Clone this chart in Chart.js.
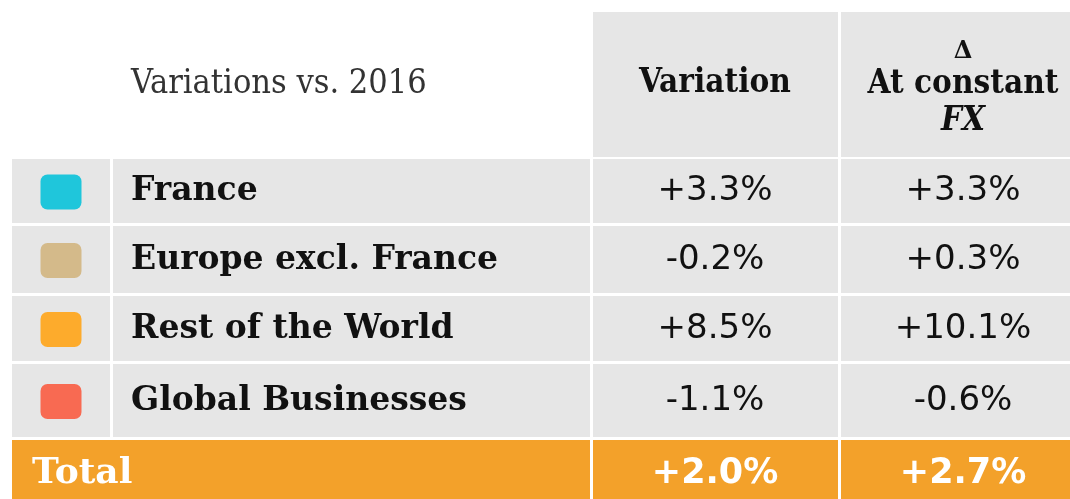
<!DOCTYPE html>
<html><head><meta charset="utf-8">
<script src="https://cdn.jsdelivr.net/npm/chart.js@4"></script>
<style>html,body{margin:0;padding:0;background:#fff}#wrap{width:1070px;height:499px}</style>
</head><body><div id="wrap"><canvas id="tbl"></canvas></div>
<script>
// data
const headerTitle='Variations vs. 2016';
const columnHeaders=['Variation',['\u0394','At constant','FX']];
const regions=['France','Europe excl. France','Rest of the World','Global Businesses'];
const swatchColors=['#1fc6db','#d4ba8a','#fdab2c','#f86a52'];
const variation=[3.3,-0.2,8.5,-1.1];
const constantFx=[3.3,0.3,10.1,-0.6];
const totalLabel='Total';
const totalValues=[2.0,2.7];

// layout, in units of the hidden linear scales
const cols={swatch:[12,110],label:[113,590],vari:[593,838],fx:[841,1070]};
const rows=[[12,157],[159,223],[226,293],[296,361],[364,437],[440,499]];
const textX={label:131,total:32,vari:715,fx:963};
const GREY='#e6e6e6',ORANGE='#f3a12a',INK='#111';
const SLAB_C='"DejaVu Serif Condensed","DejaVu Serif",serif',SLAB='"DejaVu Serif",serif',SANS='"DejaVu Sans",sans-serif';
const fmt=v=>(v>=0?'+':'')+v.toFixed(1)+'%';

const tablePlugin={id:'table',beforeDatasetsDraw(chart){
  const {ctx,scales:{x,y}}=chart;
  const px=v=>x.getPixelForValue(v), py=v=>y.getPixelForValue(v);
  const box=([x0,x1],[y0,y1],c)=>{ctx.fillStyle=c;ctx.fillRect(px(x0),py(y0),px(x1)-px(x0),py(y1)-py(y0));};
  const txt=(s,xv,yv,font,c,align='center')=>{ctx.font=font;ctx.fillStyle=c;ctx.textAlign=align;ctx.textBaseline='alphabetic';ctx.fillText(s,px(xv),py(yv));};
  const mid=r=>(r[0]+r[1])/2;
  ctx.save();
  // header
  box(cols.vari,rows[0],GREY); box(cols.fx,rows[0],GREY);
  txt(headerTitle,textX.label,93,'34px '+SLAB_C,'#333','left');
  txt(columnHeaders[0],textX.vari,92,'bold 33px '+SLAB_C,INK);
  txt(columnHeaders[1][0],textX.fx,58,'bold 24px '+SLAB,INK);
  txt(columnHeaders[1][1],textX.fx,93,'bold 33px '+SLAB_C,INK);
  txt(columnHeaders[1][2],textX.fx,130,'italic bold 33px '+SLAB_C,INK);
  // region rows
  regions.forEach((name,i)=>{
    const r=rows[i+1], b=mid(r)+9;
    Object.values(cols).forEach(c=>box(c,r,GREY));
    const sx=mid(cols.swatch), sy=mid(r);
    ctx.fillStyle=swatchColors[i];ctx.beginPath();
    ctx.roundRect(px(sx-20.5),py(sy-16.5),px(sx+20.5)-px(sx-20.5),py(sy+18.5)-py(sy-16.5),7);ctx.fill();
    txt(name,textX.label,b,'bold 33px '+SLAB,INK,'left');
    txt(fmt(variation[i]),textX.vari,b,'34px '+SANS,INK);
    txt(fmt(constantFx[i]),textX.fx,b,'34px '+SANS,INK);
  });
  // total row
  const tr=rows[5], tb=mid(tr)+13.5;
  box([cols.swatch[0],cols.label[1]],tr,ORANGE); box(cols.vari,tr,ORANGE); box(cols.fx,tr,ORANGE);
  txt(totalLabel,textX.total,tb,'bold 36px '+SLAB,'#fff','left');
  txt(fmt(totalValues[0]),textX.vari,tb,'bold 35px '+SANS,'#fff');
  txt(fmt(totalValues[1]),textX.fx,tb,'bold 35px '+SANS,'#fff');
  ctx.restore();
}};

new Chart(document.getElementById('tbl'),{
  type:'scatter',
  data:{datasets:[{data:[]}]},
  options:{responsive:true,maintainAspectRatio:false,animation:false,
    layout:{padding:0},
    plugins:{legend:{display:false},tooltip:{enabled:false}},
    scales:{x:{type:'linear',min:0,max:1070,display:false},y:{type:'linear',min:0,max:499,reverse:true,display:false}}},
  plugins:[tablePlugin]
});
</script></body></html>
